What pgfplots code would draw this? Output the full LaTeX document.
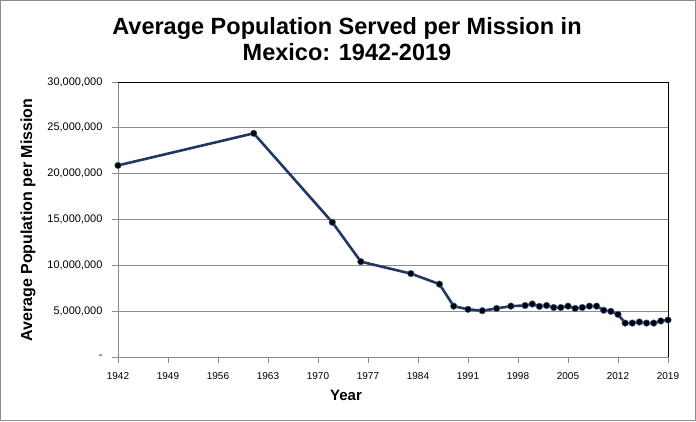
\documentclass[border=0pt]{standalone}
\usepackage{fontspec}
\setmainfont{Liberation Sans}
\usepackage{pgfplots}
\pgfplotsset{compat=1.18}
\definecolor{linec}{HTML}{1F3864}
\definecolor{markc}{HTML}{3A6AA8}
\definecolor{gridc}{HTML}{8C8C8C}
\begin{document}
\begin{tikzpicture}
\draw[gridc, line width=0.8pt] (-117.6pt,-63.6pt) rectangle (577.6pt,356.6pt);
\begin{axis}[
  at={(0pt,0pt)}, anchor=south west,
  scale only axis, width=550pt, height=275pt,
  xmin=1942, xmax=2019, ymin=0, ymax=30000000,
  scaled y ticks=false,
  xtick={1942,1949,...,2019},
  xticklabels={1942,1949,1956,1963,1970,1977,1984,1991,1998,2005,2012,2019},
  ytick={0,5000000,10000000,15000000,20000000,25000000,30000000},
  yticklabels={-,{5,000,000},{10,000,000},{15,000,000},{20,000,000},{25,000,000},{30,000,000}},
  xtick pos=bottom, ytick pos=left,
  tick align=outside, major tick length=6pt,
  tick style={gridc, line width=0.8pt},
  axis line style={gridc, line width=0.8pt},
  ymajorgrids, grid style={gridc, line width=0.8pt},
  xticklabel style={font=\fontsize{10}{12}\selectfont, yshift=-6pt},
  yticklabel style={font=\fontsize{11}{13}\selectfont, xshift=-6pt},
  clip=false,
]
\draw[black, line width=0.9pt] (rel axis cs:0,1) -- (rel axis cs:1,1) -- (rel axis cs:1,0);
\addplot[linec, line width=2.6pt, mark=*, mark size=3.3pt,
  mark options={fill=black, draw=markc, line width=0.5pt}] coordinates {
(1942,20900000)(1961,24400000)(1972,14700000)(1976,10400000)(1983,9100000)
(1987,7950000)(1989,5550000)(1991,5200000)(1993,5050000)(1995,5300000)
(1997,5550000)(1999,5620000)(2000,5780000)(2001,5520000)(2002,5620000)
(2003,5400000)(2004,5400000)(2005,5550000)(2006,5300000)(2007,5400000)
(2008,5550000)(2009,5550000)(2010,5100000)(2011,4980000)(2012,4650000)
(2013,3700000)(2014,3700000)(2015,3820000)(2016,3700000)(2017,3700000)
(2018,3930000)(2019,4040000)
};
\end{axis}
\node[font=\bfseries\fontsize{23.5}{26}\selectfont, align=center] at (229pt,318pt)
  {Average Population Served per Mission in\\Mexico: 1942-2019};
\node[font=\bfseries\fontsize{15}{17}\selectfont] at (228pt,-38pt) {Year};
\node[font=\bfseries\fontsize{16}{18}\selectfont, rotate=90] at (-90pt,137pt) {Average Population per Mission};
\end{tikzpicture}
\end{document}
